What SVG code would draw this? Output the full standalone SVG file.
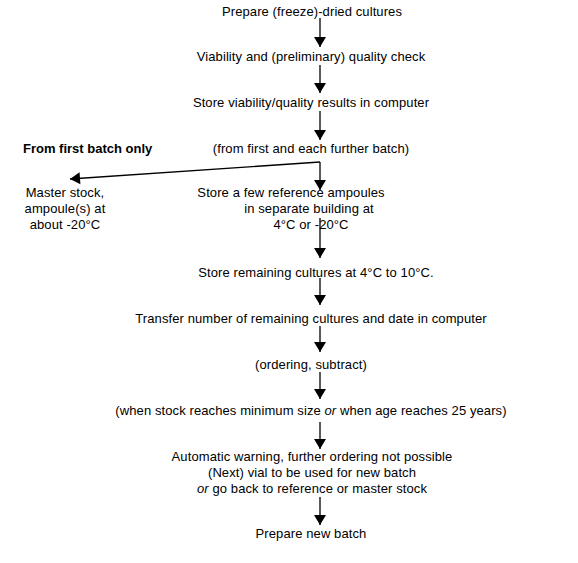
<svg xmlns="http://www.w3.org/2000/svg" width="578" height="563" viewBox="0 0 578 563">
<defs>
<style>
text{font-family:"Liberation Sans",Arial,sans-serif;font-size:13px;fill:#000;text-anchor:middle;letter-spacing:0.1px}
.b{font-weight:bold;text-anchor:start;letter-spacing:0}
.c{stroke:#000;stroke-width:1.3;fill:none;marker-end:url(#ah)}
</style>
<marker id="ah" markerUnits="userSpaceOnUse" markerWidth="12" markerHeight="14" viewBox="0 0 12 14" refX="11" refY="7" orient="auto">
<path d="M1,1 L11,7 L1,13 Z" fill="#000"/>
</marker>
</defs>
<rect width="578" height="563" fill="#fff"/>
<g id="connectors">
<line class="c" x1="320" y1="18" x2="320" y2="47"/>
<line class="c" x1="320" y1="65" x2="320" y2="93"/>
<line class="c" x1="320" y1="111" x2="320" y2="140"/>
<line class="c" x1="320" y1="162" x2="320" y2="190"/>
<line class="c" x1="320" y1="162" x2="70" y2="179"/>
<line class="c" x1="320" y1="218" x2="320" y2="258"/>
<line class="c" x1="320" y1="278" x2="320" y2="305"/>
<line class="c" x1="320" y1="326" x2="320" y2="352"/>
<line class="c" x1="320" y1="372" x2="320" y2="399"/>
<line class="c" x1="320" y1="422" x2="320" y2="449"/>
<line class="c" x1="320" y1="497" x2="320" y2="525"/>
</g>
<g id="n1"><text x="312" y="16">Prepare (freeze)-dried cultures</text></g>
<g id="n2"><text x="311" y="61">Viability and (preliminary) quality check</text></g>
<g id="n3"><text x="311" y="107">Store viability/quality results in computer</text></g>
<g id="n4"><text x="311" y="153">(from first and each further batch)</text></g>
<g id="lbl"><text class="b" x="23" y="153">From first batch only</text></g>
<g id="n5"><text x="65" y="197">Master stock,</text><text x="65" y="213">ampoule(s) at</text><text x="65" y="229">about -20°C</text></g>
<g id="n6"><text x="291" y="197">Store a few reference ampoules</text><text x="309" y="213">in separate building at</text><text x="311" y="229">4°C or -20°C</text></g>
<g id="n7"><text x="316" y="277">Store remaining cultures at 4°C to 10°C.</text></g>
<g id="n8"><text x="311" y="323">Transfer number of remaining cultures and date in computer</text></g>
<g id="n9"><text x="311" y="369">(ordering, subtract)</text></g>
<g id="n10"><text x="311" y="415">(when stock reaches minimum size <tspan font-style="italic">or</tspan> when age reaches 25 years)</text></g>
<g id="n11"><text x="312" y="461">Automatic warning, further ordering not possible</text><text x="312" y="477">(Next) vial to be used for new batch</text><text x="312" y="493"><tspan font-style="italic">or</tspan> go back to reference or master stock</text></g>
<g id="n12"><text x="311" y="538">Prepare new batch</text></g>
</svg>
